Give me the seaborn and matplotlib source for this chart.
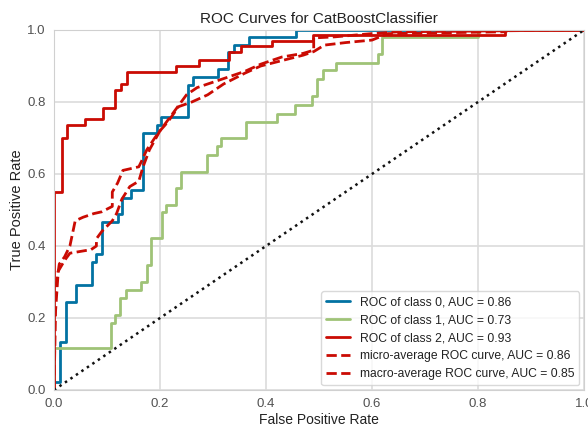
import matplotlib
matplotlib.use("Agg")
import matplotlib.pyplot as plt
import seaborn as sns
import pandas as pd

# ---- data ----
title = "ROC Curves for CatBoostClassifier"
x_label = "False Positive Rate"
y_label = "True Positive Rate"

labels = [
    "ROC of class 0, AUC = 0.86",
    "ROC of class 1, AUC = 0.73",
    "ROC of class 2, AUC = 0.93",
    "micro-average ROC curve, AUC = 0.86",
    "macro-average ROC curve, AUC = 0.85",
]

# step curves (value after each vertical jump, steps-post)
class0_fpr = [0, 0, 0.012, 0.022, 0.042, 0.071, 0.080, 0.090, 0.121, 0.128, 0.146, 0.167,
              0.195, 0.202, 0.253, 0.262, 0.310, 0.329, 0.340, 0.368, 0.456, 1.0]
class0_tpr = [0, 0.023, 0.134, 0.244, 0.292, 0.356, 0.378, 0.468, 0.489, 0.534, 0.556, 0.715,
              0.736, 0.757, 0.847, 0.870, 0.893, 0.940, 0.958, 0.980, 1.0, 1.0]

class1_fpr = [0, 0, 0.1075, 0.116, 0.1245, 0.136, 0.164, 0.175, 0.1825, 0.203, 0.211, 0.230,
              0.240, 0.288, 0.307, 0.316, 0.362, 0.420, 0.455, 0.487, 0.496, 0.507, 0.533,
              0.611, 0.618, 0.80, 1.0]
class1_tpr = [0, 0.118, 0.187, 0.208, 0.256, 0.278, 0.301, 0.347, 0.421, 0.495, 0.514, 0.560,
              0.605, 0.653, 0.679, 0.699, 0.745, 0.768, 0.792, 0.817, 0.863, 0.889, 0.909,
              0.932, 0.980, 1.0, 1.0]

class2_fpr = [0, 0, 0.0145, 0.025, 0.0585, 0.093, 0.115, 0.126, 0.138, 0.230, 0.274, 0.331,
              0.353, 0.411, 0.489, 0.851, 1.0]
class2_tpr = [0, 0.55, 0.700, 0.736, 0.752, 0.784, 0.833, 0.849, 0.884, 0.900, 0.918, 0.938,
              0.955, 0.970, 0.986, 1.0, 1.0]

micro_fpr = [0, 0.003, 0.008, 0.02, 0.03, 0.05, 0.07, 0.08, 0.08, 0.09, 0.11, 0.118, 0.128,
             0.143, 0.16, 0.168, 0.18, 0.20, 0.22, 0.25, 0.27, 0.31, 0.36, 0.39, 0.43, 0.47,
             0.49, 0.49, 0.53, 0.60, 0.65, 1.0]
micro_tpr = [0, 0.22, 0.33, 0.36, 0.38, 0.385, 0.39, 0.40, 0.42, 0.44, 0.47, 0.49, 0.53,
             0.565, 0.58, 0.62, 0.667, 0.72, 0.76, 0.82, 0.84, 0.86, 0.885, 0.905, 0.925,
             0.935, 0.944, 0.978, 0.981, 0.99, 0.995, 1.0]

macro_fpr = [0, 0, 0.005, 0.01, 0.02, 0.03, 0.04, 0.055, 0.075, 0.09, 0.11, 0.11, 0.12, 0.13,
             0.145, 0.16, 0.165, 0.175, 0.19, 0.20, 0.215, 0.235, 0.26, 0.29, 0.32, 0.36,
             0.39, 0.43, 0.47, 0.49, 0.51, 0.55, 0.60, 0.63, 0.85, 0.86, 1.0]
macro_tpr = [0, 0.24, 0.30, 0.35, 0.37, 0.40, 0.47, 0.48, 0.49, 0.495, 0.51, 0.55, 0.575,
             0.61, 0.615, 0.62, 0.635, 0.667, 0.70, 0.72, 0.745, 0.787, 0.80, 0.82, 0.85,
             0.88, 0.90, 0.915, 0.93, 0.94, 0.958, 0.965, 0.972, 0.99, 0.995, 1.0, 1.0]

diag = [0, 1]

colors = ["#0272a2", "#9fc377", "#ca0b03", "#ca0b03", "#ca0b03"]

# ---- style ----
sns.set_style("whitegrid", {"axes.edgecolor": "#d0d0d0", "grid.color": "#dcdcdc",
                            "axes.linewidth": 1.2})
plt.rcParams["font.family"] = ["Liberation Sans", "DejaVu Sans"]
plt.rcParams["text.color"] = "#222222"
plt.rcParams["axes.labelcolor"] = "#222222"
plt.rcParams["xtick.color"] = "#333333"
plt.rcParams["ytick.color"] = "#333333"

fig = plt.figure(figsize=(5.88, 4.28), dpi=100)
ax = fig.add_axes([54 / 588, 38 / 428, 530 / 588, 360 / 428])

curves = [
    (class0_fpr, class0_tpr, "-", "steps-post"),
    (class1_fpr, class1_tpr, "-", "steps-post"),
    (class2_fpr, class2_tpr, "-", "steps-post"),
    (micro_fpr, micro_tpr, "--", "default"),
    (macro_fpr, macro_tpr, "--", "default"),
]
for (fx, fy, ls, ds), lab, col in zip(curves, labels, colors):
    df = pd.DataFrame({"fpr": fx, "tpr": fy})
    sns.lineplot(data=df, x="fpr", y="tpr", ax=ax, color=col, linestyle=ls,
                 drawstyle=ds, linewidth=2, label=lab, estimator=None, sort=False)

sns.lineplot(x=diag, y=diag, ax=ax, color="#111111", linestyle=":", linewidth=1.8,
             estimator=None, sort=False)

ax.set_xlim(0, 1)
ax.set_ylim(0, 1)
ax.set_xticks([0, 0.2, 0.4, 0.6, 0.8, 1.0])
ax.set_yticks([0, 0.2, 0.4, 0.6, 0.8, 1.0])
ax.tick_params(labelsize=9.5, length=0, pad=6)
for lbl in ax.get_xticklabels() + ax.get_yticklabels():
    lbl.set_alpha(0.85)
ax.set_title(title, fontsize=11, pad=5)
ax.set_xlabel(x_label, fontsize=10, labelpad=2)
ax.set_ylabel(y_label, fontsize=10.5, labelpad=2)
ax.grid(True, linewidth=1.2)

leg = ax.legend(loc="lower right", fontsize=8.7, frameon=True, borderaxespad=0.4)
leg.get_frame().set_edgecolor("#d0d0d0")
leg.get_frame().set_facecolor("white")

fig.savefig("out.png", dpi=100)
